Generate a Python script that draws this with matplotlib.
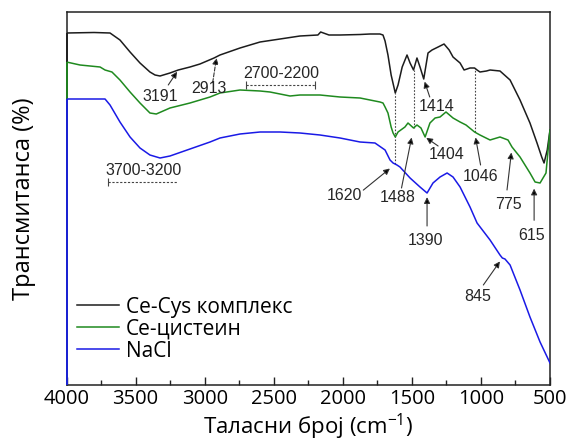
import numpy as np
import matplotlib
matplotlib.use("Agg")
import matplotlib.pyplot as plt
from matplotlib.ticker import MultipleLocator

# FTIR spectra (wavenumber in cm^-1, transmittance in arbitrary offset units)
wn_cys = [4000, 3800, 3685, 3613, 3540, 3468, 3396, 3359, 3323, 3251, 3191, 3106,
          3034, 2932, 2889, 2744, 2599, 2454, 2310, 2180, 2160, 2100, 2020, 1875,
          1803, 1731, 1709, 1694, 1673, 1650, 1620, 1600, 1570, 1535, 1513, 1488,
          1463, 1441, 1414, 1383, 1354, 1310, 1267, 1230, 1202, 1151, 1122, 1079,
          1046, 1028, 1007, 960, 934, 862, 789, 717, 645, 594, 560, 543, 520, 507, 500]
t_cys = [352, 352.5, 352, 345, 333, 322, 313, 310, 309, 312, 315, 318,
         321, 327, 330, 337, 343, 346, 349, 350, 353, 350, 350, 350.5,
         351, 351, 350, 344, 330, 310, 292, 300, 318, 330, 322, 315,
         327, 318, 306, 332, 335, 338, 341, 335, 328, 322, 315, 317,
         317, 315, 313, 314, 315, 314, 305, 285, 262, 242, 228, 222, 235, 248, 255]

wn_ce = [4000, 3902, 3757, 3721, 3671, 3613, 3540, 3468, 3396, 3350, 3251, 3106,
         2961, 2889, 2744, 2599, 2527, 2382, 2310, 2165, 2020, 1875, 1731, 1709,
         1694, 1673, 1650, 1636, 1620, 1600, 1550, 1528, 1488, 1463, 1434, 1404,
         1369, 1332, 1296, 1253, 1202, 1151, 1108, 1046, 1007, 934, 862, 804,
         775, 717, 645, 608, 572, 529, 507, 500]
t_ce = [323, 320, 318, 315, 313, 305, 293, 282, 272, 271, 277, 282,
        288, 292, 295, 294, 293, 289, 290, 290, 288, 287, 283, 282,
        278, 272, 258, 252, 248, 253, 258, 262, 257, 260, 257, 248,
        262, 267, 268, 273, 267, 263, 260, 253, 250, 245, 248, 245,
        238, 228, 212, 203, 202, 212, 245, 255]

wn_nacl = [4000, 3721, 3685, 3613, 3540, 3468, 3396, 3323, 3251, 3106, 2961, 2889,
           2744, 2599, 2454, 2310, 2165, 2020, 1875, 1767, 1694, 1658, 1636, 1608,
           1586, 1513, 1441, 1390, 1347, 1296, 1245, 1202, 1151, 1079, 1028, 934,
           862, 845, 826, 789, 717, 645, 572, 500]
t_nacl = [286, 286, 280, 263, 248, 237, 230, 227, 229, 236, 243, 247,
          251, 253, 253, 252, 250, 247, 243, 242, 235, 225, 222, 220,
          218, 207, 198, 192, 202, 208, 212, 208, 198, 178, 162, 145,
          130, 127, 126, 120, 95, 68, 43, 22]

series_names = ["Ce-Cys комплекс", "Ce-цистеин", "NaCl"]
series_colors = ["#1c1c1c", "#1f8a1f", "#1a1ae6"]

x_ticks = [4000, 3500, 3000, 2500, 2000, 1500, 1000, 500]

plt.rcParams["font.family"] = ["Open Sans", "DejaVu Sans"]
plt.rcParams["mathtext.fontset"] = "custom"
plt.rcParams["mathtext.rm"] = "Open Sans"
plt.rcParams["mathtext.it"] = "Open Sans"

fig = plt.figure(figsize=(5.71, 4.43), dpi=100)
ax = fig.add_axes([66.5 / 571, 1 - 385 / 443, (550 - 66.5) / 571, (385 - 12) / 443])

y_bottom = 0
series = [(wn_cys, t_cys), (wn_ce, t_ce), (wn_nacl, t_nacl)]
for (wx, ty), name, col in zip(series, series_names, series_colors):
    ax.vlines(wx[0], y_bottom, ty[0], color=col, lw=1.3, zorder=3, clip_on=False)
    ax.plot(wx, ty, color=col, lw=1.1, label=name, zorder=3)

ax.set_xlim(4000, 500)
ax.set_ylim(y_bottom, 373)
ax.set_xticks(x_ticks)
ax.xaxis.set_minor_locator(MultipleLocator(250))
ax.set_yticks([])
ax.tick_params(axis="x", which="major", direction="in", length=6, width=1,
               labelsize=14.5, pad=3, color="#222222")
ax.tick_params(axis="x", which="minor", direction="in", length=3.5, width=1,
               color="#222222")
for sp in ax.spines.values():
    sp.set_color("#222222")
    sp.set_linewidth(1.1)

ax.set_xlabel("Таласни број (cm$^{-1}$)", fontsize=16, labelpad=2)
ax.set_ylabel("Трансмитанса (%)", fontsize=17, labelpad=22)


def curve(k, w):
    wx, ty = series[k]
    return float(np.interp(w, wx[::-1], ty[::-1]))


def px(dx, dy):
    # pixel offset (x right, y down) -> points
    return (dx * 0.72, -dy * 0.72)


ann_font = dict(family=["Liberation Sans", "DejaVu Sans"], fontsize=11.5, color="#262626",
                ha="center", va="center")


def mark(k, w, label, tail, text, gap, dashed=False):
    xy = (w, curve(k, w))
    ax.annotate("", xy=xy, xytext=px(*tail), textcoords="offset points",
                arrowprops=dict(arrowstyle="-|>", color="#333333", lw=0.8,
                                linestyle="--" if dashed else "-",
                                mutation_scale=9, shrinkA=0, shrinkB=gap,
                                fc="black"))
    ax.annotate(label, xy=xy, xytext=px(*text), textcoords="offset points", **ann_font)


# dotted guides linking bands across spectra
for w, lo, hi in [(1620, 2, 0), (1488, 1, 0), (1046, 1, 0)]:
    ax.vlines(w, curve(lo, w), curve(hi, w), colors="#444444", linestyles=(0, (1.5, 1.5)),
              lw=0.8, zorder=2)

mark(0, 3191, "3191", (-10, 15), (-18, 27), 1.5)
mark(0, 2913, "2913", (-4, 26), (-8, 32), 1, dashed=True)
mark(0, 1414, "1414", (6, 18), (13, 28), 2)
mark(1, 1404, "1404", (13, 9), (22, 18), 1)
mark(1, 1046, "1046", (6, 33), (6, 45), 4)
mark(1, 775, "775", (-5, 43), (-4, 58), 4)
mark(1, 615, "615", (0, 40), (-3, 55), 6)
mark(1, 1488, "1488", (-12, 60), (-16, 70), 7)
mark(2, 1620, "1620", (-32, 26), (-51, 31), 5)
mark(2, 1390, "1390", (0, 33), (-2, 48), 3)
mark(2, 845, "845", (-19, 27), (-25, 39), 3)

# band-range brackets
for (w1, w2), yl, label, right_tick in [((2700, 2200), 300, "2700-2200", True),
                                         ((3700, 3200), 203, "3700-3200", False)]:
    ax.hlines(yl, w1, w2, colors="#444444", linestyles=(0, (2, 1.5)), lw=0.8)
    ax.vlines(w1, yl - 4, yl + 4, colors="#444444", lw=0.8)
    if right_tick:
        ax.vlines(w2, yl - 4, yl + 4, colors="#444444", lw=0.8)
    ax.annotate(label, xy=(w1, yl), xytext=(-2, 8), textcoords="offset points",
                **{**ann_font, "ha": "left"})

ax.legend(loc="lower left", frameon=False, fontsize=15, handlelength=2.0,
          handletextpad=0.35, labelspacing=0.05, borderaxespad=0.0,
          bbox_to_anchor=(0.005, 0.04))

fig.savefig("out.png", dpi=100)
